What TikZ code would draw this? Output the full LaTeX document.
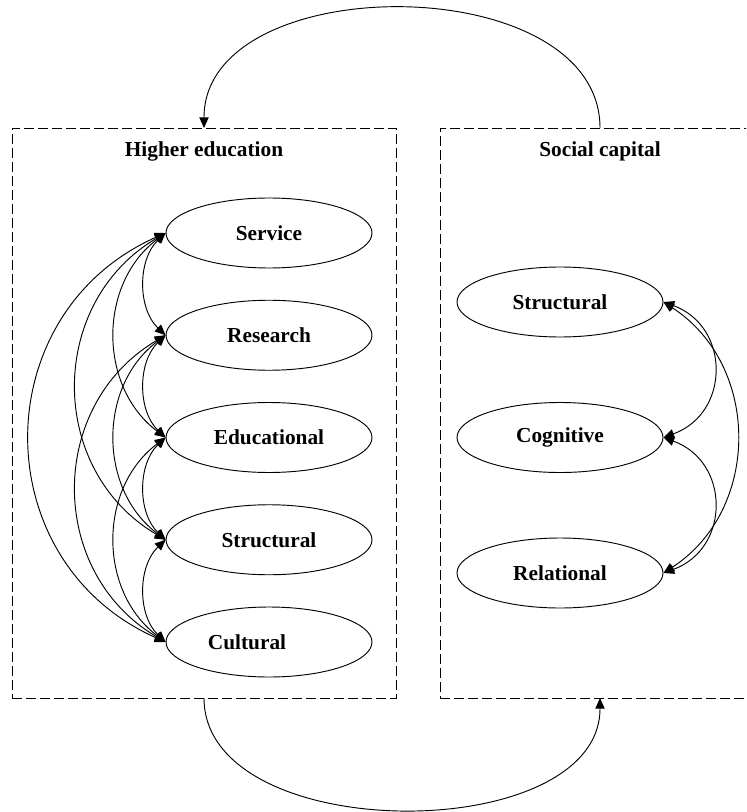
\documentclass[tikz,border=0pt]{standalone}
\usepackage{fontspec}
\setmainfont{Liberation Serif}
\usetikzlibrary{arrows.meta, positioning, shapes.geometric}

\begin{document}
\begin{tikzpicture}[
        x=0.75pt, y=-0.75pt,
        groupbox/.style={draw=black, dash pattern=on 7.5pt off 3pt, line width=0.7pt, minimum width=288pt, minimum height=427.5pt, inner sep=0pt, outer sep=0pt},
        dimension/.style={draw=black, ellipse, line width=0.7pt, minimum width=154.5pt, minimum height=52.5pt, inner sep=0pt, font=\fontsize{16}{19}\selectfont\bfseries},
        boxtitle/.style={font=\fontsize{16}{19}\selectfont\bfseries, inner sep=0pt},
        link/.style={line width=0.7pt, {Triangle[length=8pt,width=7pt]}-{Triangle[length=8pt,width=7pt]}},
        flow/.style={line width=0.7pt, -{Triangle[length=8pt,width=7pt]}}
    ]
        \clip (0,0) rectangle (746,812);

        % BOXES
        \node[groupbox] (higher) at (204,413) {};
        \node[groupbox, minimum width=240pt] (social) at (600,413) {};
        \node[boxtitle] (highertitle) at (204,151) {Higher education};
        \node[boxtitle] (socialtitle) at (600,151) {Social capital};

        \def\HigherDims{Service, Research, Educational, Structural, {Cultural\rule{33pt}{0pt}}}
        \def\SocialDims{Structural, Cognitive, Relational}

        % LEFT
        \foreach \dim [count=\i] in \HigherDims {
            \node[dimension] (h\i) at (269, {233+102.25*(\i-1)}) {\dim};
        }
        \foreach \i in {1,...,4} {
            \pgfmathtruncatemacro\next{\i+1}
            \foreach \j in {\next,...,5} {
                \pgfmathsetmacro\bend{40+6.5*(\j-\i)}
                \pgfmathsetmacro\loose{0.88+0.09*(\j-\i)}
                \draw[link] (h\i.west) to[bend right=\bend, looseness=\loose] (h\j.west);
            }
        }

        % RIGHT
        \foreach \dim [count=\i] in \SocialDims {
            \node[dimension] (s\i) at (560, {302+135.5*(\i-1)}) {\dim};
        }
        \draw[link] (s1.east) to[bend left=70, looseness=1.35] (s2.east);
        \draw[link] (s2.east) to[bend left=70, looseness=1.35] (s3.east);
        \draw[link] (s1.east) to[bend left=57, looseness=1.1] (s3.east);

        % BETWEEN BOXES
        \draw[flow] (social.north) .. controls +(0,-160) and +(0,-160) .. (higher.north);
        \draw[flow] (higher.south) .. controls +(0,149) and +(0,149) .. (social.south);
\end{tikzpicture}
\end{document}
